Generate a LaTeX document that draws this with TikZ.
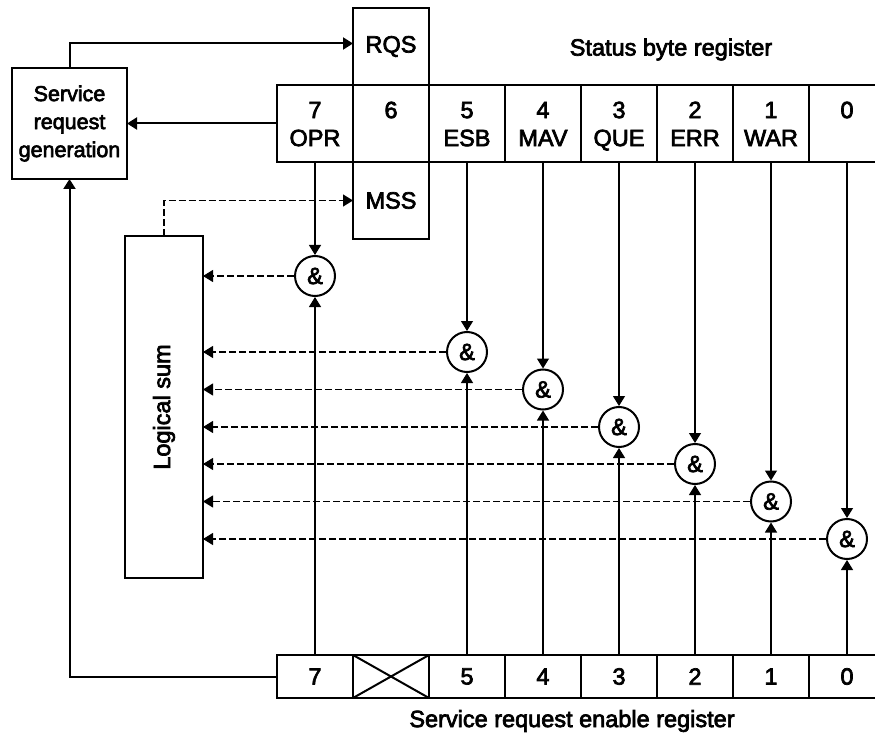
\documentclass[tikz,border=0pt]{standalone}
\usepackage{fontspec}
\setmainfont{Liberation Sans}[FakeBold=3]
\usetikzlibrary{positioning, arrows.meta}

\begin{document}
\begin{tikzpicture}[x=1pt, y=-1pt,
  >={Triangle[length=10pt, width=12pt]},
  every node/.style={font=\fontsize{23.5}{28}\selectfont, inner sep=0pt},
  regcell/.style={draw, line width=2pt, outer sep=0pt, minimum width=76pt, minimum height=#1},
  regcell/.default={77pt},
  andgate/.style={draw, circle, line width=2pt, minimum size=40pt, fill=white},
  sig/.style={line width=1.2pt, ->},
  ctl/.style={line width=2pt, ->},
  sum/.style={line width=1.2pt, dash pattern=on 7pt off 3pt, ->},
]
\useasboundingbox (0,0) rectangle (875,735);

% Status byte register
\foreach \b/\lab [count=\i from 0] in {7/OPR,6/{},5/ESB,4/MAV,3/QUE,2/ERR,1/WAR,0/{}} {
  \node[regcell] (sb\b) at (315+76*\i, 123.5) {};
  \node[align=center] (sbt\b) at ([yshift=-3pt]sb\b.center) {\strut\b\\\strut\lab};
}
\node[regcell, anchor=south] (rqs) at (sb6.north) {RQS};
\node[regcell, anchor=north] (mss) at (sb6.south) {MSS};
\node (sbtitle) at (671,49.5) {Status byte register};

% Service request generation
\node[draw, line width=2pt, outer sep=0pt, minimum width=115pt, minimum height=111pt, align=center,
  font=\fontsize{21.5}{28}\selectfont] (srg) at (69.5,123.5) {Service\\request\\generation};

% Logical sum
\node[draw, line width=2pt, outer sep=0pt, minimum width=78pt, minimum height=342pt] (ls) at (164,407) {};
\node[rotate=90] (lstext) at (ls.center) {Logical sum};

% Service request enable register
\foreach \b [count=\i from 0] in {7,6,5,4,3,2,1,0}
  \node[regcell=43pt] (se\b) at (315+76*\i, 676.5) {\ifnum\b=6 \else\b\fi};
\draw[line width=2pt] (se6.north west) -- (se6.south east) (se6.south west) -- (se6.north east);
\node (setitle) at (572,721) {Service request enable register};

% AND gates
\foreach \b/\y in {7/276,5/352,4/389.5,3/427,2/464,1/501.5,0/539} {
  \node[andgate] (and\b) at ({315+76*(7-\b)}, \y) {\&};
  \draw[sig] (sb\b.south) -- (and\b.north);
  \draw[sig] (se\b.north) -- (and\b.south);
  \draw[sum] (and\b.west) -- (and\b.west -| ls.east);
}

% Service request paths
\draw[ctl] (sb7.west) -- (srg.east);
\draw[ctl] (srg.north) |- ([yshift=3pt]rqs.west);
\draw[ctl] (se7.west) -| (srg.south);
\draw[sum] (ls.north) |- (mss.west);
\end{tikzpicture}
\end{document}
